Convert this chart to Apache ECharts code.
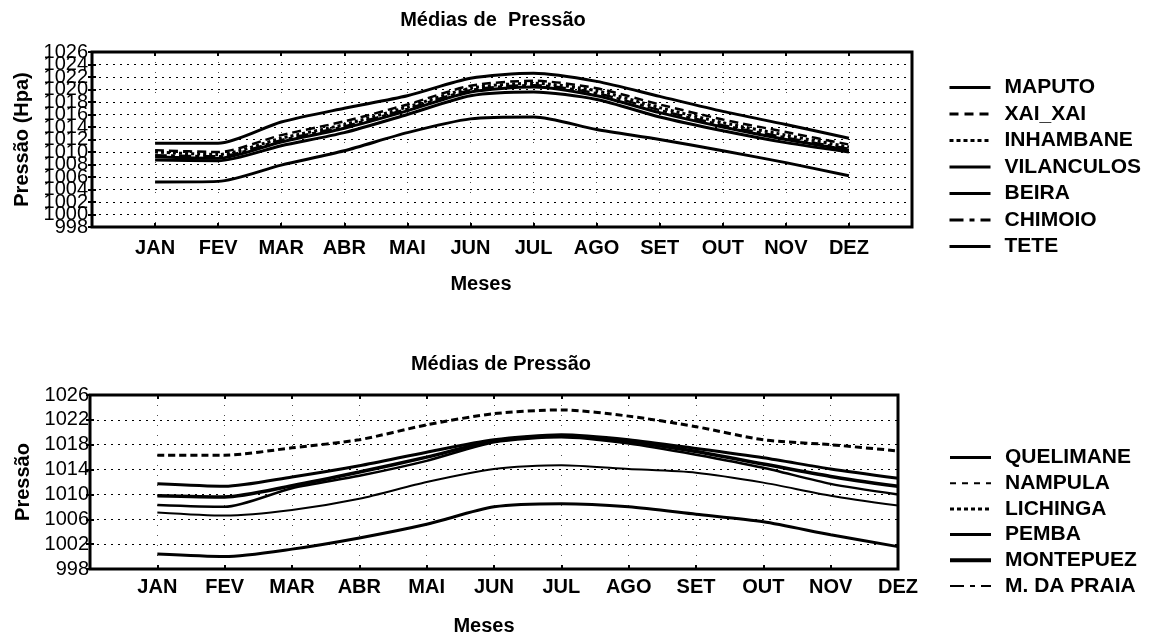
<!DOCTYPE html>
<html>
<head>
<meta charset="utf-8">
<script src="https://cdn.jsdelivr.net/npm/echarts@6/dist/echarts.min.js"></script>
<style>
  html, body { margin: 0; padding: 0; background: #fff; }
  #chart { width: 1150px; height: 637px; }
</style>
</head>
<body>
<div id="chart"></div>
<script>
  // meses e estações
  const meses = ['JAN', 'FEV', 'MAR', 'ABR', 'MAI', 'JUN', 'JUL', 'AGO', 'SET', 'OUT', 'NOV', 'DEZ']

  // grafico de cima (sul / centro)
  const maputo     = [1011.4, 1011.4, 1014.8, 1017.0, 1019.0, 1021.8, 1022.6, 1021.3, 1018.9, 1016.5, 1014.4, 1012.2]
  const xaiXai     = [1010.3, 1010.0, 1012.7, 1014.9, 1017.6, 1020.6, 1021.4, 1020.2, 1017.6, 1015.2, 1013.2, 1011.2]
  const inhambane  = [1010.0, 1009.6, 1012.2, 1014.4, 1017.2, 1020.2, 1021.0, 1019.8, 1017.1, 1014.7, 1012.7, 1010.8]
  const vilanculos = [1009.2, 1009.0, 1011.6, 1013.8, 1016.6, 1019.6, 1020.4, 1019.0, 1016.3, 1014.0, 1012.0, 1010.3]
  const beira      = [1008.7, 1008.6, 1011.0, 1013.1, 1016.0, 1019.0, 1019.6, 1018.4, 1015.6, 1013.4, 1011.5, 1010.0]
  const chimoio    = [1009.5, 1009.3, 1011.9, 1014.1, 1016.9, 1019.9, 1020.7, 1019.4, 1016.7, 1014.3, 1012.3, 1010.5]
  const tete       = [1005.2, 1005.3, 1007.9, 1010.2, 1013.1, 1015.3, 1015.6, 1013.6, 1012.0, 1010.2, 1008.3, 1006.2]

  // grafico de baixo (norte)
  const quelimane  = [1011.7, 1011.3, 1012.8, 1014.6, 1016.8, 1018.8, 1019.6, 1018.8, 1017.4, 1015.9, 1014.1, 1012.6]
  const nampula    = [1000.4, 1000.0, 1001.2, 1003.0, 1005.2, 1008.0, 1008.5, 1008.0, 1006.8, 1005.6, 1003.5, 1001.6]
  const lichinga   = [1016.3, 1016.3, 1017.5, 1018.8, 1021.2, 1023.0, 1023.6, 1022.6, 1020.9, 1018.8, 1018.0, 1017.0]
  const pemba      = [1008.3, 1008.0, 1011.0, 1013.0, 1015.4, 1018.4, 1019.2, 1018.2, 1016.4, 1014.3, 1011.7, 1010.0]
  const montepuez  = [1009.8, 1009.6, 1011.4, 1013.6, 1016.0, 1018.6, 1019.4, 1018.5, 1016.9, 1014.9, 1012.9, 1011.3]
  const mDaPraia   = [1007.1, 1006.6, 1007.5, 1009.3, 1012.0, 1014.1, 1014.7, 1014.1, 1013.5, 1011.9, 1009.8, 1008.2]

  const font = "'Liberation Sans', Arial, sans-serif"

  // [nome, valores, grid, estilo da linha no grafico, estilo no legenda]
  const estacoes = [
    ['MAPUTO', maputo, 0, { width: 3 }, { width: 3 }],
    ['XAI_XAI', xaiXai, 0, { width: 2.5, type: [9, 5] }, { width: 3, type: [9, 6] }],
    ['INHAMBANE', inhambane, 0, { width: 3, type: [3, 3] }, { width: 3, type: [4, 3] }],
    ['VILANCULOS', vilanculos, 0, { width: 3 }, { width: 3 }],
    ['BEIRA', beira, 0, { width: 3 }, { width: 3 }],
    ['CHIMOIO', chimoio, 0, { width: 2.5, type: [12, 4, 4, 4] }, { width: 3, type: [14, 6, 5, 6] }],
    ['TETE', tete, 0, { width: 3 }, { width: 3 }],
    ['QUELIMANE', quelimane, 1, { width: 3 }, { width: 3 }],
    ['NAMPULA', nampula, 1, { width: 3 }, { width: 2, type: [6, 6] }],
    ['LICHINGA', lichinga, 1, { width: 3, type: [7, 4] }, { width: 3, type: [4, 3] }],
    ['PEMBA', pemba, 1, { width: 2.5 }, { width: 3 }],
    ['MONTEPUEZ', montepuez, 1, { width: 3.5 }, { width: 4 }],
    ['M. DA PRAIA', mDaPraia, 1, { width: 2 }, { width: 2, type: [14, 6, 5, 6] }],
  ]

  const splitDotted = { show: true, lineStyle: { color: '#000', width: 1, type: [2, 5] } }
  const splitVert = { show: true, lineStyle: { color: '#000', width: 1, type: [1, 9], opacity: 0.7 } }

  function eixoX(grid, max, extra) {
    return Object.assign({
      type: 'value',
      gridIndex: grid,
      min: 0,
      max: max,
      interval: 1,
      axisLine: { show: false },
      axisTick: { inside: true, length: 4, lineStyle: { color: '#000', width: 2 } },
      splitLine: { show: false },
      axisLabel: { show: false },
    }, extra)
  }

  function eixoY(grid, interval, extra) {
    return Object.assign({
      type: 'value',
      gridIndex: grid,
      min: 998,
      max: 1026,
      interval: interval,
      axisLine: { show: false },
      axisTick: { inside: true, length: 4, lineStyle: { color: '#000', width: 2 } },
      splitLine: { show: false },
      axisLabel: { show: false },
    }, extra)
  }

  const rotuloMes = (v) => meses[v - 1] || ''
  const rotuloY = {
    show: true,
    fontSize: 20,
    lineHeight: 10,
    color: '#000',
    formatter: (v) => String(v),
  }

  const legendaBase = {
    orient: 'vertical',
    left: 943,
    itemWidth: 41,
    itemHeight: 14,
    itemStyle: { color: 'rgba(0,0,0,0)', borderWidth: 0, opacity: 0 },
    textStyle: { fontSize: 21, fontWeight: 'bold', color: '#000', fontFamily: font, lineHeight: 21, padding: [0, 0, 0, 9] },
  }

  const option = {
    backgroundColor: '#fff',
    animation: false,
    color: ['#000'],
    textStyle: { fontFamily: font, color: '#000' },
    title: [
      { text: 'Médias de  Pressão', left: 488, top: 5, textAlign: 'center', textStyle: { fontSize: 20, fontWeight: 'bold', color: '#000' } },
      { text: 'Médias de Pressão', left: 496, top: 349, textAlign: 'center', textStyle: { fontSize: 20, fontWeight: 'bold', color: '#000' } },
    ],
    legend: [
      Object.assign({}, legendaBase, {
        top: 72,
        itemGap: 5.5,
        data: estacoes.filter((e) => e[2] === 0).map((e) => ({ name: e[0], lineStyle: e[4] })),
      }),
      Object.assign({}, legendaBase, {
        top: 442,
        itemGap: 4.7,
        data: estacoes.filter((e) => e[2] === 1).map((e) => ({ name: e[0], lineStyle: e[4] })),
      }),
    ],
    grid: [
      { left: 92, top: 52, width: 820, height: 175, show: true, borderColor: '#000', borderWidth: 3, backgroundColor: '#fff' },
      { left: 90, top: 395, width: 808, height: 176, show: true, borderColor: '#000', borderWidth: 3, backgroundColor: '#fff' },
    ],
    xAxis: [
      eixoX(0, 13, {
        position: 'bottom',
        splitLine: splitVert,
        axisLabel: { show: true, formatter: rotuloMes, fontSize: 20, fontWeight: 'bold', color: '#000', margin: 11 },
        name: 'Meses',
        nameLocation: 'middle',
        nameGap: 47,
        nameTextStyle: { fontSize: 20, fontWeight: 'bold', color: '#000', padding: [0, 42, 0, 0] },
      }),
      eixoX(0, 13, { position: 'top' }),
      eixoX(1, 12, {
        position: 'bottom',
        splitLine: splitVert,
        axisLabel: { show: true, formatter: rotuloMes, fontSize: 20, fontWeight: 'bold', color: '#000', margin: 8 },
        name: 'Meses',
        nameLocation: 'middle',
        nameGap: 47,
        nameTextStyle: { fontSize: 20, fontWeight: 'bold', color: '#000', padding: [0, 20, 0, 0] },
      }),
      eixoX(1, 12, { position: 'top' }),
    ],
    yAxis: [
      eixoY(0, 2, {
        position: 'left',
        splitLine: splitDotted,
        axisLabel: Object.assign({}, rotuloY, { margin: 4 }),
        name: 'Pressão (Hpa)',
        nameLocation: 'middle',
        nameGap: 58,
        nameTextStyle: { fontSize: 20, fontWeight: 'bold', color: '#000' },
      }),
      eixoY(0, 2, { position: 'right' }),
      eixoY(1, 4, {
        position: 'left',
        splitLine: splitDotted,
        axisLabel: Object.assign({}, rotuloY, { margin: 1 }),
        name: 'Pressão',
        nameLocation: 'middle',
        nameGap: 57,
        nameTextStyle: { fontSize: 20, fontWeight: 'bold', color: '#000' },
      }),
      eixoY(1, 4, { position: 'right' }),
      // só os extremos 998 e 1026 do grafico de cima (o eixo principal esconde-os)
      eixoY(0, 2, {
        position: 'left',
        axisTick: { show: false },
        axisLabel: Object.assign({}, rotuloY, {
          margin: 4,
          showMinLabel: true,
          showMaxLabel: true,
          formatter: (v) => (v === 998 || v === 1026 ? String(v) : ''),
        }),
      }),
    ],
    series: estacoes.map((e) => ({
      name: e[0],
      type: 'line',
      xAxisIndex: e[2] === 0 ? 0 : 2,
      yAxisIndex: e[2] === 0 ? 0 : 2,
      data: e[1].map((v, i) => [i + 1, v]),
      smooth: 0.25,
      symbol: 'none',
      lineStyle: Object.assign({ color: '#000' }, e[3]),
      itemStyle: { color: '#000' },
    })),
  }

  const chart = echarts.init(document.getElementById('chart'))
  chart.setOption(option)
</script>
</body>
</html>
